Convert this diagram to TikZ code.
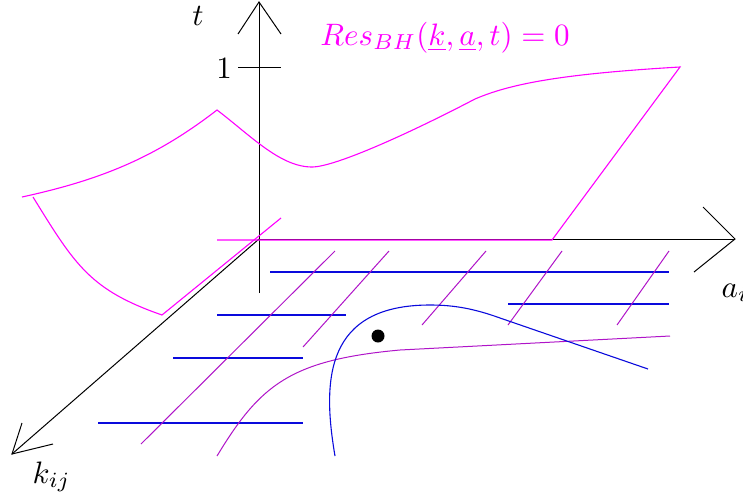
\documentclass[tikz,border=0pt]{standalone}
\begin{document}
\definecolor{mag}{RGB}{255,0,255}
\definecolor{pur}{RGB}{175,20,200}
\definecolor{blu}{RGB}{10,10,220}
\begin{tikzpicture}[x=1pt,y=-1pt,
  ax/.style={black,line width=1pt},
  surf/.style={mag,line width=1.1pt},
  bl/.style={blu,line width=1.1pt},
  pl/.style={pur,line width=1pt},
  lbl/.style={inner sep=0pt,font=\normalsize,scale=3.1}]
\useasboundingbox (0,0) rectangle (743,501);
% axis points
\coordinate (O) at (259,239);
\coordinate (Tb) at (259,293);
\coordinate (T) at (259,2);
\coordinate (A) at (735,239);
\coordinate (K) at (12,454);
% t axis
\draw[ax] (Tb) -- (T);
\draw[ax] (238,34) -- (T) -- (281,34);
\draw[ax] (238,67) -- (281,67);
% a axis
\draw[ax] (O) -- (A);
\draw[ax] (703,207) -- (A) -- (694,272);
% k axis
\draw[ax] (O) -- (K);
\draw[ax] (22,423) -- (K) -- (53,444);
% labels
\node[lbl,anchor=base] (lt) at (198,25) {$t$};
\node[lbl,anchor=base] (l1) at (224,78) {$1$};
\node[lbl,anchor=base west] (la) at (721,297) {$a_i$};
\node[lbl,anchor=base west] (lk) at (32,483) {$k_{ij}$};
\node[lbl,anchor=base,text=mag] (title) at (445,45) {$Res_{BH}(\underline{k},\underline{a},t)=0$};
% magenta surface
\draw[surf] (22,197) .. controls (100,180) and (155,158) .. (217,110)
  .. controls (250,135) and (280,167) .. (312,167)
  .. controls (335,167) and (410,133) .. (475,99)
  .. controls (510,84) and (560,74) .. (680,67) -- (552,240) -- (217,240);
\draw[surf] (33,197) .. controls (75,265) and (90,290) .. (162,315);
\draw[surf] (281,218) -- (162,315);
% blue grid
\draw[bl] (270,272) -- (669,272);
\draw[bl] (217,315) -- (346,315);
\draw[bl] (508,304) -- (669,304);
\draw[bl] (173,358) -- (303,358);
\draw[bl] (98,423) -- (303,423);
% purple grid
\draw[pl] (335,251) -- (141,444);
\draw[pl] (389,251) -- (303,347);
\draw[pl] (486,251) -- (422,325);
\draw[pl] (562,251) -- (508,325);
\draw[pl] (669,251) -- (617,325);
% purple curve
\draw[pl] (217,456) .. controls (260,385) and (290,360) .. (400,350) -- (670,336);
% blue curve
\draw[bl] (335,456) .. controls (322,380) and (325,305) .. (430,305)
  .. controls (455,305) and (475,309) .. (500,318) -- (648,369);
% dot
\fill[black] (378,336) circle (6.5);
\end{tikzpicture}
\end{document}
